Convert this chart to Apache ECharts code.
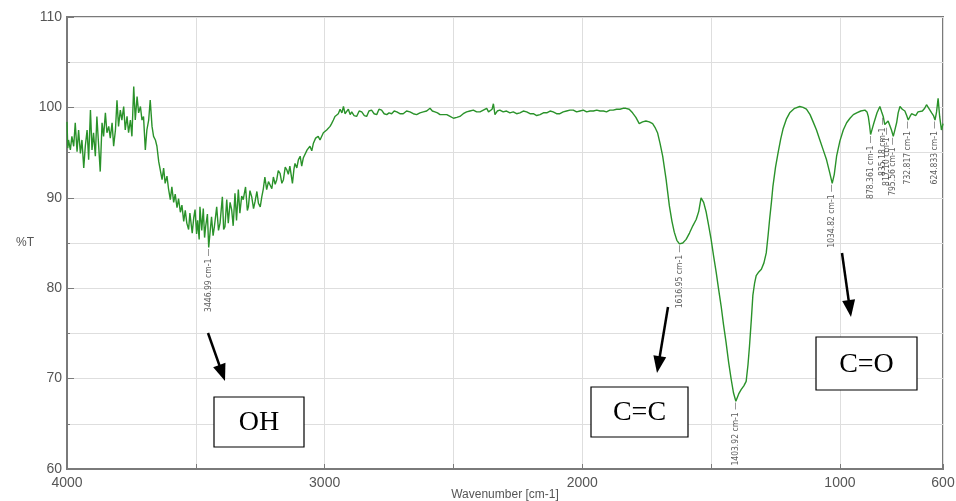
<!DOCTYPE html>
<html>
<head>
<meta charset="utf-8">
<title>IR spectrum</title>
<script src="https://cdn.jsdelivr.net/npm/echarts@6/dist/echarts.min.js"></script>
<style>
  html, body { margin: 0; padding: 0; background: #fff; }
  #chart { width: 956px; height: 501px; }
</style>
</head>
<body>
<div id="chart"></div>
<script>
// [wavenumber cm-1, %T]
const ohBand = [
  [4000, 98.4], [3997, 95.5], [3994, 96.4], [3987, 95.3], [3981, 96.8], [3974, 95.7], [3968, 98.3],
  [3961, 95.1], [3955, 97.5], [3948, 94.9], [3942, 96.4], [3935, 93.3], [3929, 95.7], [3922, 97.5],
  [3916, 94.2], [3909, 99.7], [3903, 95.3], [3897, 97.2], [3890, 94.6], [3884, 99.0], [3877, 95.7],
  [3871, 92.9], [3864, 98.3], [3858, 96.8], [3851, 99.4], [3845, 97.2], [3838, 97.9], [3832, 96.6],
  [3825, 98.3], [3819, 95.7], [3812, 97.5], [3806, 100.8], [3800, 97.9], [3793, 99.7], [3787, 98.6],
  [3780, 100.1], [3774, 97.5], [3767, 99.0], [3761, 97.2], [3754, 98.6], [3748, 96.8], [3741, 102.3],
  [3735, 98.6], [3728, 101.2], [3722, 99.4], [3715, 100.1], [3709, 98.6], [3703, 99.0], [3696, 95.3],
  [3690, 97.5], [3683, 98.6], [3677, 100.8], [3670, 97.9], [3664, 96.8], [3657, 96.4], [3651, 95.7],
  [3644, 94.0], [3638, 93.8], [3631, 92.0], [3625, 93.3], [3619, 91.6], [3612, 92.4], [3606, 91.0],
  [3599, 89.8], [3593, 91.2], [3586, 89.5], [3580, 90.4], [3573, 88.9], [3567, 89.9], [3560, 88.4],
  [3554, 89.2], [3547, 87.4], [3541, 88.6], [3535, 87.2], [3528, 86.5], [3523, 88.3], [3514, 86.1],
  [3508, 87.8], [3503, 88.7], [3497, 86.0], [3493, 87.5], [3487, 85.4], [3484, 89.0], [3477, 86.4],
  [3471, 88.8], [3466, 85.6], [3462, 86.8], [3455, 88.2], [3450, 84.5], [3445, 86.1], [3439, 87.9],
  [3433, 85.8], [3428, 86.8], [3419, 89.0], [3412, 86.4], [3406, 87.2], [3397, 90.1], [3392, 86.5],
  [3387, 86.8], [3380, 89.8], [3374, 87.2], [3367, 89.5], [3361, 88.7], [3355, 86.9], [3348, 90.5],
  [3342, 87.5], [3335, 90.9], [3329, 88.3], [3322, 90.2], [3316, 89.8], [3307, 91.2], [3300, 88.6],
  [3296, 89.0], [3290, 90.8], [3283, 90.1], [3276, 88.8], [3270, 89.6], [3263, 90.7], [3257, 89.4],
  [3250, 89.0], [3244, 90.1], [3238, 91.0], [3232, 92.3], [3225, 90.9], [3218, 91.8], [3212, 92.0],
  [3205, 91.0], [3199, 92.3], [3192, 91.5], [3186, 92.0], [3180, 93.0], [3173, 92.7], [3166, 91.6],
  [3160, 92.0], [3153, 93.4], [3147, 93.1], [3141, 92.6], [3135, 93.5], [3125, 91.6], [3119, 93.2],
  [3115, 93.8], [3108, 93.3], [3102, 94.2], [3095, 94.6], [3089, 93.5], [3083, 94.4], [3076, 94.6],
  [3068, 95.3], [3057, 95.7], [3050, 95.2], [3044, 96.0], [3035, 96.6], [3025, 96.8], [3018, 96.4],
  [3012, 96.4], [3005, 97.2], [2999, 97.1], [2992, 97.5], [2986, 97.5], [2979, 97.9], [2973, 98.2],
  [2966, 98.6], [2960, 99.0]
];

const plateau = [
  [2947, 99.3], [2940, 99.8], [2933, 99.4], [2927, 100.1], [2921, 99.3], [2915, 99.2], [2908, 99.8],
  [2901, 99.2], [2895, 99.5], [2886, 99.1], [2876, 99.0], [2866, 99.6], [2856, 99.5], [2846, 99.1],
  [2837, 99.0], [2828, 99.6], [2818, 99.7], [2808, 99.3], [2798, 99.2], [2789, 99.8], [2779, 99.7],
  [2769, 99.3], [2759, 99.2], [2750, 99.4], [2740, 99.3], [2730, 99.6], [2720, 99.5], [2708, 99.3],
  [2695, 99.3], [2682, 99.6], [2669, 99.5], [2656, 99.3], [2643, 99.2], [2630, 99.4], [2617, 99.5],
  [2604, 99.6], [2591, 99.9], [2582, 99.6], [2572, 99.5], [2562, 99.4], [2552, 99.2], [2539, 99.2],
  [2526, 99.2], [2513, 99.0], [2500, 98.8], [2487, 98.9], [2475, 99.0], [2462, 99.3], [2449, 99.5],
  [2436, 99.6], [2423, 99.7], [2410, 99.5], [2397, 99.5], [2384, 99.7], [2371, 99.9], [2364, 99.5],
  [2358, 99.3], [2350, 99.8], [2345, 100.4], [2339, 99.2], [2330, 99.6], [2320, 99.7], [2307, 99.5],
  [2294, 99.6], [2281, 99.4], [2268, 99.5], [2255, 99.3], [2242, 99.4], [2229, 99.6], [2216, 99.5],
  [2203, 99.3], [2190, 99.3], [2177, 99.1], [2164, 99.2], [2151, 99.4], [2138, 99.4], [2125, 99.6],
  [2113, 99.5], [2100, 99.3], [2087, 99.3], [2074, 99.5], [2061, 99.6], [2048, 99.7], [2035, 99.7],
  [2022, 99.5], [2009, 99.6], [1996, 99.7], [1983, 99.5], [1970, 99.6], [1957, 99.6], [1944, 99.7],
  [1931, 99.6], [1918, 99.6], [1906, 99.5], [1893, 99.7], [1880, 99.7], [1867, 99.8], [1854, 99.8],
  [1842, 99.9], [1831, 99.9]
];

const doubleBondRegion = [
  [1818, 99.8], [1805, 99.4], [1792, 98.9], [1779, 98.2], [1766, 98.4], [1753, 98.5], [1740, 98.4],
  [1727, 98.2], [1718, 97.8], [1708, 97.2], [1698, 96.0], [1688, 94.6], [1675, 92.1], [1662, 89.1],
  [1652, 87.4], [1643, 86.2], [1633, 85.3], [1623, 84.9], [1610, 85.0], [1597, 85.4], [1584, 86.1],
  [1571, 86.9], [1558, 87.6], [1548, 88.5], [1539, 90.0], [1529, 89.5], [1519, 88.4], [1510, 87.0],
  [1500, 85.4], [1490, 83.5], [1480, 81.7], [1471, 79.9], [1461, 78.0], [1452, 76.0], [1442, 74.0],
  [1432, 71.8], [1422, 69.9], [1413, 68.4], [1404, 67.5], [1393, 68.3], [1383, 68.8], [1373, 69.2],
  [1364, 69.7], [1357, 71.5], [1351, 73.6], [1344, 76.5], [1338, 79.2], [1331, 80.6], [1325, 81.4],
  [1315, 81.8], [1305, 82.1], [1295, 82.8], [1286, 83.9], [1279, 85.8], [1273, 87.6], [1266, 89.5],
  [1260, 91.3], [1250, 93.4], [1240, 95.0], [1230, 96.5], [1221, 97.6], [1208, 98.7], [1195, 99.4],
  [1176, 99.9], [1156, 100.1]
];

const fingerprint = [
  [1143, 100.0], [1130, 99.8], [1116, 99.2], [1104, 98.4], [1091, 97.5], [1078, 96.4], [1065, 95.3],
  [1052, 94.2], [1039, 92.7], [1030, 91.6], [1022, 92.6], [1013, 94.6], [1000, 96.3], [987, 97.5],
  [974, 98.3], [961, 98.8], [948, 99.2], [935, 99.4], [919, 99.6], [903, 99.7], [895, 99.5],
  [890, 99.0], [885, 98.0], [881, 97.0], [875, 97.6], [868, 98.3], [856, 99.4], [845, 100.1],
  [838, 99.5], [832, 99.0], [826, 98.1], [819, 97.9], [813, 98.5], [806, 98.5], [800, 97.5],
  [793, 96.8], [786, 97.6], [780, 98.3], [774, 99.4], [767, 100.1], [758, 99.8], [748, 99.6],
  [741, 99.1], [735, 98.6], [728, 99.0], [722, 99.3], [715, 99.2], [706, 99.1], [697, 99.5],
  [690, 99.4], [680, 99.6], [671, 99.9], [664, 100.3], [655, 99.9], [644, 99.4], [637, 99.1],
  [631, 98.6], [625, 99.5], [619, 101.0], [613, 99.0], [606, 97.5], [600, 98.2]
];

const peakWavenumbers = [3450, 1623, 1404, 1030, 881, 832, 819, 793, 735, 631];
const peakTransmittance = [84.5, 84.9, 67.5, 91.6, 97.0, 99.0, 97.9, 96.8, 98.6, 98.6];
const peakLabels = ['3446.99 cm-1', '1616.95 cm-1', '1403.92 cm-1', '1034.82 cm-1', '878.361 cm-1',
  '835.18 cm-1', '817.10 cm-1', '795.56 cm-1', '732.817 cm-1', '624.833 cm-1'];

const xLabelValues = [4000, 3000, 2000, 1000, 600];

const spectrum = ohBand.concat(plateau, doubleBondRegion, fingerprint);
const peaks = peakWavenumbers.map((w, i) => [w, peakTransmittance[i], peakLabels[i]]);

function arrow(x1, y1, x2, y2) {
  const a = Math.atan2(y2 - y1, x2 - x1);
  const hl = 17, hw = 6.5;
  const bx = x2 - hl * Math.cos(a), by = y2 - hl * Math.sin(a);
  const lx = x2 - (hl - 3) * Math.cos(a), ly = y2 - (hl - 3) * Math.sin(a);
  return [
    { type: 'line', z: 100, shape: { x1: x1, y1: y1, x2: lx, y2: ly }, style: { stroke: '#000', lineWidth: 2.5 } },
    { type: 'polygon', z: 100, shape: { points: [[x2, y2], [bx + hw * Math.sin(a), by - hw * Math.cos(a)], [bx - hw * Math.sin(a), by + hw * Math.cos(a)]] }, style: { fill: '#000' } }
  ];
}

function box(x, y, w, h, text) {
  return [
    { type: 'rect', z: 100, shape: { x: x, y: y, width: w, height: h }, style: { fill: '#fff', stroke: '#000', lineWidth: 1.2 } },
    { type: 'text', z: 101, x: x + w / 2, y: y + h / 2 + 1, style: { text: text, fill: '#000', font: '28px "Liberation Serif", "Times New Roman", serif', align: 'center', verticalAlign: 'middle' } }
  ];
}

const chart = echarts.init(document.getElementById('chart'));
const axisColor = '#7a7a7a';
const gridColor = '#dedede';
const labelFont = 'Liberation Sans, Arial, sans-serif';

chart.setOption({
  animation: false,
  backgroundColor: '#fff',
  grid: {
    left: 67, right: 13, top: 17, bottom: 32,
    outerBoundsMode: 'none',
    containLabel: false,
    show: true, borderColor: axisColor, borderWidth: 2
  },
  xAxis: {
    type: 'value',
    inverse: true,
    min: 600,
    max: 4000,
    splitNumber: 7,
    name: 'Wavenumber [cm-1]',
    nameLocation: 'middle',
    nameGap: 20,
    nameMoveOverlap: false,
    nameTextStyle: { color: '#555', fontSize: 12, fontFamily: labelFont },
    axisLine: { lineStyle: { color: axisColor, width: 2 } },
    axisTick: { inside: true, length: 5, lineStyle: { color: axisColor } },
    axisLabel: {
      color: '#555',
      fontSize: 14,
      fontFamily: labelFont,
      margin: 7,
      formatter: v => xLabelValues.indexOf(v) >= 0 ? String(v) : ''
    },
    splitLine: { show: true, lineStyle: { color: gridColor, width: 1 } }
  },
  yAxis: {
    type: 'value',
    min: 60,
    max: 110,
    interval: 10,
    name: '%T',
    nameLocation: 'middle',
    nameRotate: 0,
    nameGap: 33,
    nameMoveOverlap: false,
    nameTextStyle: { color: '#555', fontSize: 12, fontFamily: labelFont },
    axisLine: { show: true, lineStyle: { color: axisColor, width: 2 } },
    axisTick: { show: true, inside: true, length: 7, lineStyle: { color: axisColor } },
    minorTick: { show: true, splitNumber: 2, length: 3, lineStyle: { color: axisColor } },
    axisLabel: { color: '#555', fontSize: 14, fontFamily: labelFont, margin: 5 },
    splitLine: { show: true, lineStyle: { color: gridColor, width: 1 } },
    minorSplitLine: { show: true, lineStyle: { color: gridColor, width: 1 } }
  },
  series: [
    {
      type: 'line',
      data: spectrum,
      showSymbol: false,
      symbol: 'none',
      lineStyle: { color: '#2a922a', width: 1.4 },
      z: 3
    },
    {
      type: 'scatter',
      data: peaks,
      symbolSize: 0,
      silent: true,
      z: 4,
      label: {
        show: true,
        position: 'bottom',
        distance: 1,
        rotate: 90,
        align: 'right',
        verticalAlign: 'middle',
        color: '#333',
        fontSize: 8.5,
        fontFamily: '"Liberation Sans Narrow", "DejaVu Sans Condensed", sans-serif',
        formatter: p => p.data[2] + ' \u2014'
      }
    }
  ],
  graphic: [].concat(
    arrow(208, 333, 225, 381),
    arrow(668, 307, 657, 373),
    arrow(842, 253, 851, 317),
    box(214, 397, 90, 50, 'OH'),
    box(591, 387, 97, 50, 'C=C'),
    box(816, 337, 101, 53, 'C=O')
  )
});
</script>
</body>
</html>
